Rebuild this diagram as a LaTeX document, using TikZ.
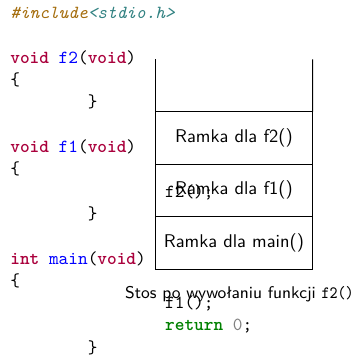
\documentclass[tikz,border=0pt]{standalone}
\usepackage{xcolor}
\usepackage{graphicx}
\definecolor{kwc}{RGB}{170,0,60}
\definecolor{fnc}{RGB}{0,0,255}
\definecolor{prec}{RGB}{165,110,15}
\definecolor{hdrc}{RGB}{50,130,130}
\definecolor{retc}{RGB}{0,128,0}
\definecolor{numc}{RGB}{128,128,128}
\newcommand{\kwd}[1]{\textcolor{kwc}{\bfseries #1}}
\newcommand{\fnm}[1]{\textcolor{fnc}{#1}}
\begin{document}
\begin{tikzpicture}[
  code/.style={anchor=base west, inner sep=0pt, font=\ttfamily},
  frame/.style={draw, line width=0.6pt, minimum width=3cm, minimum height=1cm, inner sep=0pt, outer sep=0pt, font=\sffamily, anchor=north west},
  edge/.style={line width=0.6pt}
]
\useasboundingbox (0,0) rectangle (6.787,-6.864);
% code lines
\def\xa{0.19cm}
\def\xb{0.19cm+42pt}
\def\xc{0.19cm+84pt}
\node[code] (l1) at (\xa,-0.3565) {\textcolor{prec}{\itshape\#include}\textcolor{hdrc}{\itshape<stdio.h>}};
\node[code] (l3) at (\xa,{-(0.3565+2*0.4252)}) {\kwd{void} \fnm{f2}(\kwd{void})};
\node[code] (l4) at (\xa,{-(0.3565+3*0.4252)}) {\{};
\node[code] (l5) at ({\xb},{-(0.3565+4*0.4252)}) {\}};
\node[code] (l7) at (\xa,{-(0.3565+6*0.4252)}) {\kwd{void} \fnm{f1}(\kwd{void})};
\node[code] (l8) at (\xa,{-(0.3565+7*0.4252)}) {\{};
\node[code] (l9) at ({\xc},{-(0.3565+8*0.4252)}) {f2();};
\node[code] (l10) at ({\xb},{-(0.3565+9*0.4252)}) {\}};
\node[code] (l12) at (\xa,{-(0.3565+11*0.4252)}) {\kwd{int} \fnm{main}(\kwd{void})};
\node[code] (l13) at (\xa,{-(0.3565+12*0.4252)}) {\{};
\node[code] (l14) at ({\xc},{-(0.3565+13*0.4252)}) {f1();};
\node[code] (l15) at ({\xc},{-(0.3565+14*0.4252)}) {\textcolor{retc}{\bfseries return} \textcolor{numc}{0};};
\node[code] (l16) at ({\xb},{-(0.3565+15*0.4252)}) {\}};
% stack frames
\node[frame] (ff2) at (2.96,-2.13) {Ramka dla f2()};
\node[frame] (ff1) at (2.96,-3.13) {Ramka dla f1()};
\node[frame] (fmain) at (2.96,-4.13) {Ramka dla main()};
\coordinate (tl) at (2.96,-1.13);
\coordinate (tr) at (5.96,-1.13);
\draw[edge] (tl) -- (ff2.north west);
\draw[edge] (tr) -- (ff2.north east);
% caption
\node[anchor=base, inner sep=0pt, font=\fontsize{9.2pt}{11pt}\sffamily] (cap) at (4.564,-5.70) {Stos po wywołaniu funkcji \scalebox{0.88}[1]{\fontsize{9.4pt}{11pt}\ttfamily f2()}};
\end{tikzpicture}
\end{document}
